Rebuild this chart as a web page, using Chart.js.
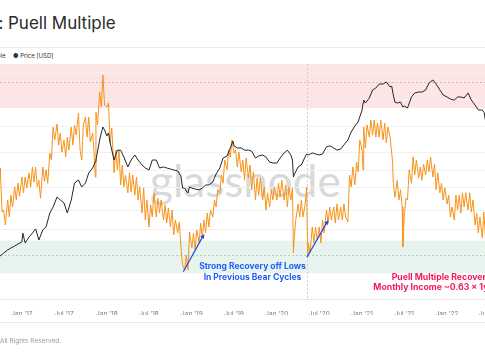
<!DOCTYPE html>
<html><head><meta charset="utf-8">
<script src="https://cdn.jsdelivr.net/npm/chart.js@4.4.0/dist/chart.umd.min.js"></script>
<style>
html,body{margin:0;padding:0;background:#fff;overflow:hidden;width:485px;height:360px;}
#wrap{position:relative;width:485px;height:360px;overflow:hidden;font-family:Inter,"Noto Sans",sans-serif;}
.abs{position:absolute;white-space:nowrap;}
.sep{position:absolute;left:0;width:485px;height:1px;background:#ececec;}
#c{position:absolute;left:0;top:0;}
</style></head><body>
<div id="wrap">
  <div class="abs" style="right:481.5px;top:15.3px;font-size:17px;line-height:17px;color:#2b2b2b;">Bitcoin:</div>
  <div class="abs" style="left:8px;top:15.3px;font-size:17px;line-height:17px;color:#2b2b2b;">Puell Multiple</div>
  <div class="sep" style="top:47px"></div>
  <div class="abs" style="right:479.5px;top:52px;font-size:6px;line-height:7px;color:#333;">● Puell Multiple</div>
  <div class="abs" style="left:13px;top:52px;font-size:6px;line-height:7px;color:#333;">● Price [USD]</div>
  <div class="abs" style="left:150px;top:152px;font-family:Lato,sans-serif;font-size:44px;line-height:56px;color:#d9d9d9;">glassnode</div>
  <canvas id="c" width="530" height="360"></canvas>
  <div class="abs" style="left:252.5px;top:260.5px;transform:translateX(-50%);text-align:center;font-weight:700;font-size:8.5px;line-height:11px;color:#1f5bff;">Strong Recovery off Lows<br>In Previous Bear Cycles</div>
  <div class="abs" style="left:391.7px;top:271.8px;font-weight:700;font-size:8.7px;line-height:11px;color:#f5195c;">Puell Multiple Recovers</div>
  <div class="abs" style="left:373.3px;top:282.2px;font-weight:700;font-size:8.7px;line-height:11px;color:#f5195c;">Monthly Income ~0.63 × 1yr Avg</div>
  <div class="sep" style="top:322px"></div>
  <div class="abs" style="left:0;top:337px;font-size:6.5px;line-height:8px;color:#9a9a9a;">All Rights Reserved.</div>
</div>
<script>
// ---- Puell Multiple (weekly readings) ----
const puellDates = [
'2016-09-22','2016-09-29','2016-10-01','2016-10-08','2016-10-15','2016-10-22','2016-11-01','2016-11-08','2016-11-15','2016-11-22','2016-12-01','2016-12-08','2016-12-15','2016-12-22',
'2017-01-01','2017-01-08','2017-01-15','2017-01-22','2017-02-01','2017-02-08','2017-02-15','2017-02-22','2017-03-01','2017-03-08','2017-03-15','2017-03-22','2017-04-01','2017-04-08','2017-04-15','2017-04-22','2017-05-01','2017-05-08','2017-05-15','2017-05-22','2017-06-01','2017-06-08','2017-06-15','2017-06-22','2017-07-01','2017-07-08','2017-07-15','2017-07-22','2017-08-01','2017-08-08','2017-08-15','2017-08-22','2017-09-01','2017-09-08','2017-09-15','2017-09-22','2017-10-01','2017-10-08','2017-10-15','2017-10-22','2017-11-01','2017-11-08','2017-11-12','2017-11-15','2017-11-22','2017-12-01','2017-12-08','2017-12-15','2017-12-22',
'2018-01-01','2018-01-08','2018-01-15','2018-01-22','2018-02-01','2018-02-08','2018-02-15','2018-02-22','2018-03-01','2018-03-08','2018-03-15','2018-03-22','2018-04-01','2018-04-08','2018-04-15','2018-04-22','2018-05-01','2018-05-08','2018-05-15','2018-05-22','2018-06-01','2018-06-08','2018-06-15','2018-06-22','2018-07-01','2018-07-08','2018-07-15','2018-07-22','2018-08-01','2018-08-08','2018-08-15','2018-08-22','2018-09-01','2018-09-08','2018-09-15','2018-09-22','2018-10-01','2018-10-08','2018-10-15','2018-10-22','2018-11-01','2018-11-08','2018-11-15','2018-11-22','2018-12-01','2018-12-08','2018-12-15','2018-12-22',
'2019-01-01','2019-01-08','2019-01-15','2019-01-22','2019-02-01','2019-02-08','2019-02-15','2019-02-22','2019-03-01','2019-03-08','2019-03-15','2019-03-22','2019-04-01','2019-04-08','2019-04-15','2019-04-22','2019-05-01','2019-05-08','2019-05-15','2019-05-22','2019-06-01','2019-06-08','2019-06-15','2019-06-22','2019-07-01','2019-07-08','2019-07-15','2019-07-22','2019-08-01','2019-08-08','2019-08-15','2019-08-22','2019-09-01','2019-09-08','2019-09-15','2019-09-22','2019-10-01','2019-10-08','2019-10-15','2019-10-22','2019-11-01','2019-11-08','2019-11-15','2019-11-22','2019-12-01','2019-12-08','2019-12-15','2019-12-22',
'2020-01-01','2020-01-08','2020-01-15','2020-01-22','2020-02-01','2020-02-08','2020-02-15','2020-02-22','2020-03-01','2020-03-08','2020-03-12','2020-03-15','2020-03-22','2020-04-01','2020-04-08','2020-04-15','2020-04-22','2020-05-01','2020-05-08','2020-05-12','2020-05-15','2020-05-22','2020-06-01','2020-06-08','2020-06-15','2020-06-22','2020-07-01','2020-07-08','2020-07-15','2020-07-22','2020-08-01','2020-08-08','2020-08-15','2020-08-22','2020-09-01','2020-09-08','2020-09-15','2020-09-22','2020-10-01','2020-10-08','2020-10-15','2020-10-22','2020-11-01','2020-11-08','2020-11-15','2020-11-22','2020-12-01','2020-12-08','2020-12-15','2020-12-22',
'2021-01-01','2021-01-05','2021-01-08','2021-01-15','2021-01-22','2021-02-01','2021-02-08','2021-02-15','2021-02-22','2021-03-01','2021-03-08','2021-03-15','2021-03-22','2021-04-01','2021-04-08','2021-04-15','2021-04-22','2021-05-01','2021-05-08','2021-05-12','2021-05-15','2021-05-22','2021-06-01','2021-06-08','2021-06-15','2021-06-22','2021-06-25','2021-07-01','2021-07-08','2021-07-15','2021-07-22','2021-08-01','2021-08-08','2021-08-15','2021-08-22','2021-09-01','2021-09-08','2021-09-15','2021-09-22','2021-10-01','2021-10-08','2021-10-15','2021-10-22','2021-11-01','2021-11-08','2021-11-15','2021-11-22','2021-12-01','2021-12-08','2021-12-15','2021-12-22',
'2022-01-01','2022-01-08','2022-01-15','2022-01-22','2022-02-01','2022-02-08','2022-02-15','2022-02-22','2022-03-01','2022-03-08','2022-03-15','2022-03-22','2022-04-01','2022-04-08','2022-04-15','2022-04-22','2022-05-01','2022-05-08','2022-05-15','2022-05-22','2022-06-01','2022-06-08','2022-06-15','2022-06-22'
];
const puellMultiple = [
1.52,1.56,1.40,0.784,0.809,0.639,0.947,0.725,1.02,0.848,1.163,0.947,1.231,1.004,
1.357,1.059,1.357,1.145,1.450,1.163,1.589,1.250,1.589,1.163,1.29,0.973,1.589,1.27,1.52,1.231,1.975,1.77,2.975,2.43,3.12,2.24,2.71,2.006,2.43,1.86,2.54,2.07,2.975,2.24,3.07,2.62,3.70,2.07,1.77,3.07,3.48,2.54,3.48,2.35,2.71,1.86,1.357,3.76,3.07,5.16,4.07,6.73,4.20,
4.07,4.34,2.32,2.93,1.45,2.07,1.52,2.07,1.20,1.64,1.163,1.40,1.059,1.45,1.076,1.40,1.02,1.357,0.947,1.163,0.772,1.145,0.691,0.947,0.619,0.875,0.725,1.059,0.725,0.973,0.772,0.947,0.691,0.875,0.659,0.835,0.619,0.809,0.546,0.691,0.564,0.670,0.452,0.341,0.315,0.399,0.315,0.573,
0.446,0.564,0.432,0.591,0.482,0.657,0.521,0.691,0.564,0.772,0.619,0.809,0.725,0.947,0.848,1.11,1.059,1.40,1.231,1.77,1.52,2.07,1.86,2.43,1.975,2.07,1.589,2.006,1.473,1.77,1.29,1.83,1.336,1.64,1.11,1.473,0.947,1.336,1.02,1.336,0.947,1.163,0.809,1.059,0.848,1.11,0.947,1.163,
0.947,1.231,0.988,1.29,0.947,1.20,0.848,1.163,0.947,1.145,0.412,0.505,0.691,0.889,0.725,0.947,0.725,0.875,1.163,0.387,0.482,0.412,0.619,0.482,0.619,0.505,0.619,0.482,0.691,0.564,0.809,0.659,0.848,0.691,0.848,0.659,0.889,0.691,0.848,0.691,0.889,0.725,0.670,1.40,1.163,1.589,1.20,1.715,1.473,2.43,
2.07,1.52,2.975,2.14,3.07,2.54,3.32,2.62,3.32,2.54,3.17,2.54,3.32,2.43,3.17,2.32,2.975,2.54,1.975,1.72,1.231,0.988,1.29,0.947,1.11,0.848,0.452,0.725,0.973,0.947,1.52,1.231,1.86,1.40,1.77,1.336,1.589,1.29,1.666,1.40,1.77,1.473,1.86,1.357,1.666,1.11,1.45,1.059,1.231,0.947,1.145,
0.889,1.02,0.725,0.848,0.691,1.02,0.809,1.02,0.772,1.059,0.848,1.059,0.809,1.059,0.784,0.947,0.639,0.772,0.564,0.725,0.521,0.784,0.505,0.639
];
// ---- BTC price (semi-monthly readings) ----
const priceDates = [
'2016-09-25','2016-10-01','2016-10-15','2016-11-01','2016-11-15','2016-12-01','2016-12-15',
'2017-01-01','2017-01-05','2017-01-15','2017-02-01','2017-02-15','2017-03-01','2017-03-15','2017-04-01','2017-04-15','2017-05-01','2017-05-15','2017-06-01','2017-06-15','2017-07-01','2017-07-15','2017-08-01','2017-08-15','2017-09-01','2017-09-15','2017-10-01','2017-10-15','2017-11-01','2017-11-12','2017-11-15','2017-12-01','2017-12-08','2017-12-15','2017-12-22',
'2018-01-01','2018-01-08','2018-01-15','2018-02-01','2018-02-15','2018-03-01','2018-03-15','2018-04-01','2018-04-15','2018-05-01','2018-05-15','2018-06-01','2018-06-15','2018-07-01','2018-07-15','2018-08-01','2018-08-15','2018-09-01','2018-09-15','2018-10-01','2018-10-15','2018-11-01','2018-11-15','2018-11-22','2018-12-01','2018-12-08','2018-12-15','2018-12-22',
'2019-01-01','2019-01-15','2019-02-01','2019-02-15','2019-03-01','2019-03-15','2019-04-01','2019-04-15','2019-05-01','2019-05-15','2019-06-01','2019-06-15','2019-06-26','2019-07-01','2019-07-15','2019-08-01','2019-08-15','2019-09-01','2019-09-15','2019-10-01','2019-10-15','2019-11-01','2019-11-15','2019-12-01','2019-12-15',
'2020-01-01','2020-01-15','2020-02-01','2020-02-15','2020-03-01','2020-03-08','2020-03-12','2020-03-15','2020-04-01','2020-04-15','2020-05-01','2020-05-08','2020-05-12','2020-05-15','2020-06-01','2020-06-15','2020-07-01','2020-07-15','2020-08-01','2020-08-15','2020-09-01','2020-09-15','2020-10-01','2020-10-15','2020-11-01','2020-11-15','2020-12-01','2020-12-15',
'2021-01-01','2021-01-05','2021-01-08','2021-01-15','2021-02-01','2021-02-15','2021-03-01','2021-03-15','2021-04-01','2021-04-15','2021-05-01','2021-05-08','2021-05-15','2021-05-22','2021-06-01','2021-06-15','2021-06-25','2021-07-01','2021-07-15','2021-08-01','2021-08-15','2021-09-01','2021-09-15','2021-10-01','2021-10-15','2021-11-01','2021-11-15','2021-12-01','2021-12-15',
'2022-01-01','2022-01-15','2022-02-01','2022-02-15','2022-03-01','2022-03-15','2022-04-01','2022-04-15','2022-05-01','2022-05-15','2022-06-01','2022-06-10','2022-06-14'
];
const priceUSD = [
585,585,649,703,741,781,825,
870,1100,847,994,1100,1232,917,1200,1300,1880,2200,2880,2660,2450,1880,2660,4170,4520,3750,4170,5450,6220,7290,7690,13100,15800,18500,17100,
14600,15800,12100,7690,10000,10000,8330,6390,7690,8790,7690,6740,6220,5900,7690,7690,6220,6390,6220,6060,5900,5750,5030,3650,3650,3380,3200,3750,
3650,3560,3470,3650,3955,3955,4280,5310,6220,8110,8560,10600,12750,11200,10600,10600,10000,10000,9740,8110,8560,8790,8330,7290,7100,
7100,8110,9270,10000,8790,7690,4900,5170,6390,6740,8330,9030,8790,8790,9270,9030,8790,9030,10900,11200,10600,10000,10300,11500,13100,16200,19000,21200,
29100,35000,37900,35000,40000,49500,52200,58000,58000,61300,53600,55000,43300,35900,35000,35900,31500,32300,30700,41100,45700,46900,46900,49500,59600,64600,58000,49500,43300,
41100,38900,37900,41100,41100,40000,45700,37900,33200,29100,29100,26900,22300
];
// ---- axes / reference levels ----
const tickDates = ['2017-01-01','2017-07-01','2018-01-01','2018-07-01','2019-01-01','2019-07-01','2020-01-01','2020-07-01','2021-01-01','2021-07-01','2022-01-01','2022-07-01'];
const tickLabels = ["Jan '17","Jul '17","Jan '18","Jul '18","Jan '19","Jul '19","Jan '20","Jul '20","Jan '21","Jul '21","Jan '22","Jul '22"];
const xRange = ['2016-09-29','2022-12-23'];
const puellRange = [0.2, 8];
const priceRange = [191, 98800];
const puellGrid = [7, 4.6, 3, 2, 1.5, 1.15, 0.8, 0.6, 0.45];
const redBand = [4, 8];
const greenBand = [0.3, 0.5];
const redDashed = 6;
const greenDashed = 0.4;
const halvingDate = '2020-05-11';
const arrowFromDates = ['2018-11-25','2020-05-09'];
const arrowFromPuell = [0.307, 0.385];
const arrowToDates = ['2019-02-23','2020-08-09'];
const arrowToPuell = [0.555, 0.691];

const t = d => Date.parse(d + 'T00:00:00Z');

const bandsPlugin = {
  id: 'bands',
  beforeDraw(chart) {
    const {ctx, chartArea: a, scales} = chart;
    const y = scales.yP;
    ctx.save();
    ctx.fillStyle = '#fde5e5';
    let y1 = y.getPixelForValue(redBand[1]), y2 = y.getPixelForValue(redBand[0]);
    ctx.fillRect(a.left, y1, a.right - a.left, y2 - y1);
    ctx.fillStyle = '#e6f4ed';
    y1 = y.getPixelForValue(greenBand[1]); y2 = y.getPixelForValue(greenBand[0]);
    ctx.fillRect(a.left, y1, a.right - a.left, y2 - y1);
    ctx.restore();
  },
  beforeDatasetsDraw(chart) {
    const {ctx, chartArea: a, scales} = chart;
    ctx.save();
    ctx.lineWidth = 1;
    ctx.setLineDash([2, 2]);
    let yy = Math.round(scales.yP.getPixelForValue(redDashed)) + 0.5;
    ctx.strokeStyle = '#e9b3b3';
    ctx.beginPath(); ctx.moveTo(a.left, yy); ctx.lineTo(a.right, yy); ctx.stroke();
    yy = Math.round(scales.yP.getPixelForValue(greenDashed)) + 0.5;
    ctx.strokeStyle = '#b5cfc2';
    ctx.beginPath(); ctx.moveTo(a.left, yy); ctx.lineTo(a.right, yy); ctx.stroke();
    const xx = Math.round(scales.x.getPixelForValue(t(halvingDate))) + 0.5;
    ctx.strokeStyle = '#cfcfcf';
    ctx.beginPath(); ctx.moveTo(xx, a.top); ctx.lineTo(xx, a.bottom); ctx.stroke();
    ctx.restore();
  },
  afterDatasetsDraw(chart) {
    const {ctx, scales} = chart;
    ctx.save();
    ctx.strokeStyle = '#2748e8';
    ctx.fillStyle = '#2748e8';
    ctx.lineWidth = 1.2;
    for (let i = 0; i < arrowFromDates.length; i++) {
      const x1 = scales.x.getPixelForValue(t(arrowFromDates[i]));
      const y1 = scales.yP.getPixelForValue(arrowFromPuell[i]);
      const x2 = scales.x.getPixelForValue(t(arrowToDates[i]));
      const y2 = scales.yP.getPixelForValue(arrowToPuell[i]);
      const ang = Math.atan2(y2 - y1, x2 - x1);
      const hl = 5;
      ctx.beginPath(); ctx.moveTo(x1, y1);
      ctx.lineTo(x2 - Math.cos(ang) * 3, y2 - Math.sin(ang) * 3); ctx.stroke();
      ctx.beginPath();
      ctx.moveTo(x2, y2);
      ctx.lineTo(x2 - hl * Math.cos(ang - 0.45), y2 - hl * Math.sin(ang - 0.45));
      ctx.lineTo(x2 - hl * Math.cos(ang + 0.45), y2 - hl * Math.sin(ang + 0.45));
      ctx.closePath(); ctx.fill();
    }
    ctx.restore();
  }
};

new Chart(document.getElementById('c'), {
  type: 'line',
  data: {
    datasets: [
      { label: 'Price [USD]', data: priceDates.map((d, i) => ({x: t(d), y: priceUSD[i]})), yAxisID: 'yR',
        borderColor: '#262626', borderWidth: 1, pointRadius: 0, tension: 0 },
      { label: 'Puell Multiple', data: puellDates.map((d, i) => ({x: t(d), y: puellMultiple[i]})), yAxisID: 'yP',
        borderColor: '#f7931a', borderWidth: 1, pointRadius: 0, tension: 0 }
    ]
  },
  options: {
    responsive: false, animation: false, devicePixelRatio: 1,
    layout: { padding: { top: 64, bottom: 45, left: 0, right: 0 } },
    plugins: { legend: { display: false }, tooltip: { enabled: false } },
    scales: {
      x: {
        type: 'linear', min: t(xRange[0]), max: t(xRange[1]),
        grid: { display: false },
        border: { color: '#e6e6e6' },
        afterFit: s => { s.height = 16; },
        afterBuildTicks: s => { s.ticks = tickDates.map(d => ({value: t(d)})); },
        ticks: {
          autoSkip: false, maxRotation: 0, padding: 3,
          color: '#7a7a7a', font: { family: 'Inter', size: 6.5 },
          callback: v => { const i = tickDates.findIndex(d => t(d) === v); return i >= 0 ? tickLabels[i] : ''; }
        }
      },
      yP: {
        type: 'logarithmic', position: 'left', min: puellRange[0], max: puellRange[1],
        afterBuildTicks: s => { s.ticks = puellGrid.map(v => ({value: v})); },
        ticks: { display: false },
        grid: { color: '#f1f1f1', drawTicks: false },
        border: { display: false }
      },
      yR: {
        type: 'logarithmic', position: 'right', min: priceRange[0], max: priceRange[1],
        display: false
      }
    }
  },
  plugins: [bandsPlugin]
});
</script>
</body></html>
